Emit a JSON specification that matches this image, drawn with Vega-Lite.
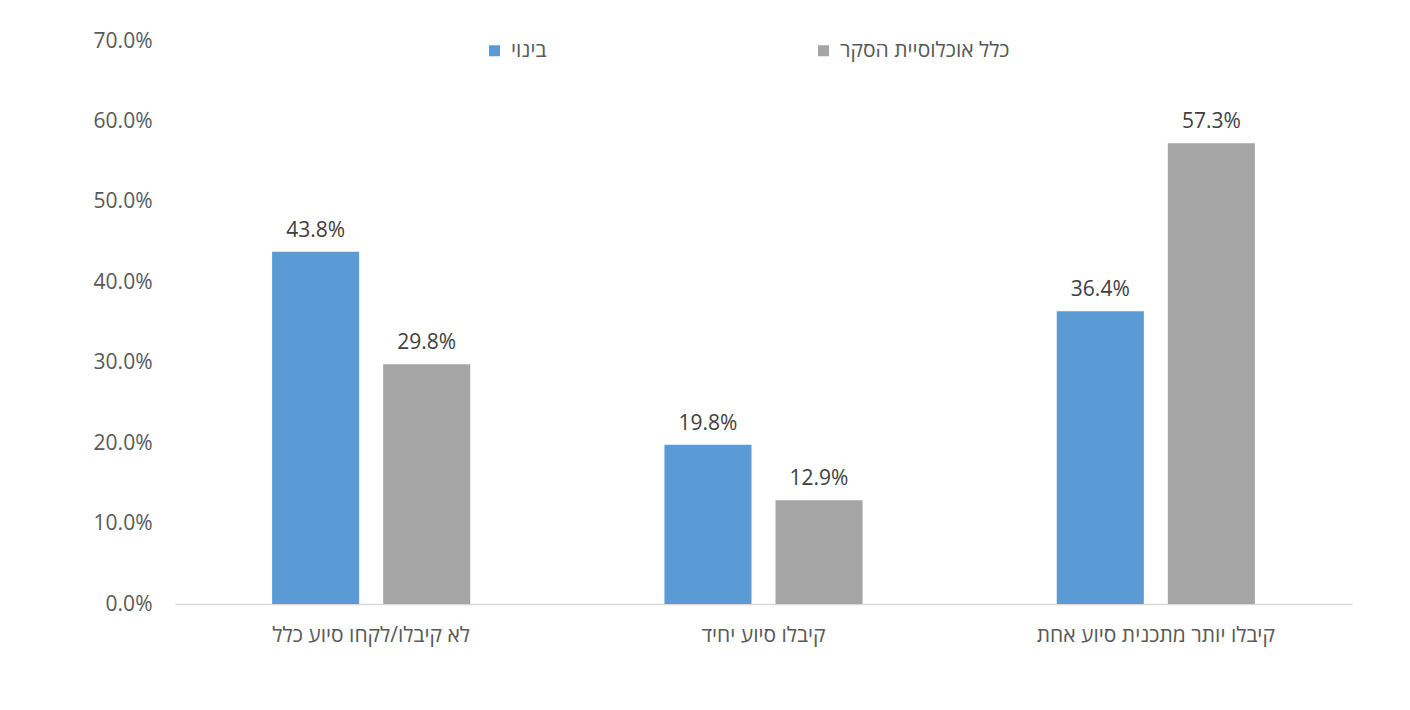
{
  "$schema": "https://vega.github.io/schema/vega-lite/v6.json",
  "width": 1410,
  "height": 710,
  "autosize": {"type": "fit", "contains": "padding"},
  "padding": {"left": 93, "right": 58, "top": 30, "bottom": 65},
  "background": "white",
  "config": {
    "view": {"stroke": null},
    "font": "Open Sans",
    "axis": {"labelFont": "Open Sans", "labelColor": "#595959", "labelFontSize": 21, "grid": false, "ticks": false, "title": null},
    "legend": {"labelFont": "Open Sans", "labelColor": "#595959", "labelFontSize": 21, "labelLimit": 400}
  },
  "data": {
    "values": [
      {"category": "לא קיבלו/לקחו סיוע כלל", "series": "בינוי", "value": 0.438},
      {"category": "לא קיבלו/לקחו סיוע כלל", "series": "כלל אוכלוסיית הסקר", "value": 0.298},
      {"category": "קיבלו סיוע יחיד", "series": "בינוי", "value": 0.198},
      {"category": "קיבלו סיוע יחיד", "series": "כלל אוכלוסיית הסקר", "value": 0.129},
      {"category": "קיבלו יותר מתכנית סיוע אחת", "series": "בינוי", "value": 0.364},
      {"category": "קיבלו יותר מתכנית סיוע אחת", "series": "כלל אוכלוסיית הסקר", "value": 0.573}
    ]
  },
  "encoding": {
    "x": {
      "field": "category",
      "type": "nominal",
      "sort": ["לא קיבלו/לקחו סיוע כלל", "קיבלו סיוע יחיד", "קיבלו יותר מתכנית סיוע אחת"],
      "scale": {"paddingInner": 0.495, "paddingOuter": 0.2475},
      "axis": {"labelAngle": 0, "labelPadding": 20, "domainColor": "#D9D9D9", "domainWidth": 1.5, "labelLimit": 400}
    },
    "xOffset": {
      "field": "series",
      "type": "nominal",
      "sort": ["בינוי", "כלל אוכלוסיית הסקר"],
      "scale": {"paddingInner": 0.216, "paddingOuter": 0}
    },
    "y": {
      "field": "value",
      "type": "quantitative",
      "scale": {"domain": [0, 0.7]},
      "axis": {"format": ".1%", "values": [0, 0.1, 0.2, 0.3, 0.4, 0.5, 0.6, 0.7], "domain": false, "labelPadding": 23}
    }
  },
  "layer": [
    {
      "mark": {"type": "bar"},
      "encoding": {
        "color": {
          "field": "series",
          "type": "nominal",
          "sort": ["בינוי", "כלל אוכלוסיית הסקר"],
          "scale": {"domain": ["בינוי", "כלל אוכלוסיית הסקר"], "range": ["#5B9BD5", "#A5A5A5"]},
          "legend": {
            "title": null,
            "orient": "none",
            "direction": "horizontal",
            "legendX": 309,
            "legendY": -1,
            "symbolType": "square",
            "symbolSize": 121,
            "symbolStrokeWidth": 0,
            "labelOffset": 6,
            "labelLimit": 400,
            "columnPadding": 266
          }
        }
      }
    },
    {
      "mark": {"type": "text", "baseline": "bottom", "dy": -11, "fontSize": 21, "color": "#404040"},
      "encoding": {
        "text": {"field": "value", "type": "quantitative", "format": ".1%"}
      }
    }
  ]
}
